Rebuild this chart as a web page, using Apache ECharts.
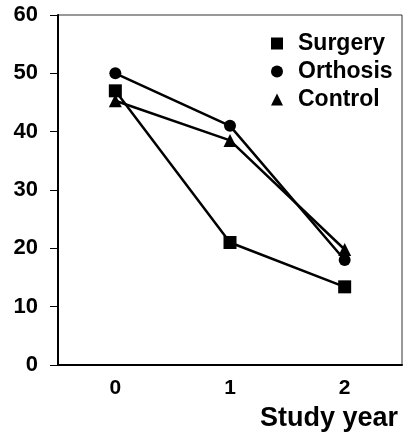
<!DOCTYPE html>
<html>
<head>
<meta charset="utf-8">
<script src="https://cdn.jsdelivr.net/npm/echarts@6/dist/echarts.min.js"></script>
<style>
html,body{margin:0;padding:0;background:#fff;}
#chart{width:409px;height:435px;}
</style>
</head>
<body>
<div id="chart"></div>
<script>
const categories = ['0', '1', '2'];
const surgery = [47, 21, 13.4];
const orthosis = [50, 41, 18];
const control = [45.3, 38.5, 19.8];
const yTicks = [0, 10, 20, 30, 40, 50, 60];
const seriesNames = ['Surgery', 'Orthosis', 'Control'];
const xAxisTitle = 'Study year';

const chart = echarts.init(document.getElementById('chart'), null, {renderer: 'canvas'});
const font = '"Liberation Sans", Arial, sans-serif';
function mk(name, data, symbol, size) {
  return {
    name: name, type: 'line', data: data,
    symbol: symbol, symbolSize: size,
    itemStyle: {color: '#000'},
    lineStyle: {color: '#000', width: 2.5},
    z: 3
  };
}
chart.setOption({
  animation: false,
  backgroundColor: '#fff',
  grid: {left: 58, right: 7, top: 15, bottom: 70, show: true, borderColor: '#333', borderWidth: 1},
  xAxis: {
    type: 'category', data: categories, boundaryGap: true,
    axisLine: {show: true, lineStyle: {color: '#000', width: 2}},
    axisTick: {show: false},
    axisLabel: {color: '#000', fontFamily: font, fontWeight: 'bold', fontSize: 21, margin: 13},
    splitLine: {show: false}
  },
  yAxis: {
    type: 'value', min: 0, max: 60, interval: 10,
    axisLine: {show: true, lineStyle: {color: '#000', width: 2}},
    axisTick: {show: true, length: 8, lineStyle: {color: '#000', width: 1}},
    axisLabel: {color: '#000', fontFamily: font, fontWeight: 'bold', fontSize: 22, margin: 20,
      formatter: function (v) { return yTicks.indexOf(v) >= 0 ? String(v) : ''; }},
    splitLine: {show: false}
  },
  legend: {
    orient: 'vertical', left: 266, top: 27,
    itemWidth: 12, itemHeight: 12, itemGap: 5,
    textStyle: {color: '#000', fontFamily: font, fontWeight: 'bold', fontSize: 23, lineHeight: 23, padding: [0, 0, 0, 10]},
    data: [
      {name: seriesNames[0], icon: 'rect'},
      {name: seriesNames[1], icon: 'circle'},
      {name: seriesNames[2], icon: 'triangle'}
    ]
  },
  graphic: [{
    type: 'text', right: 11, top: 405,
    style: {text: xAxisTitle, fill: '#000', font: 'bold 27px "Liberation Sans", Arial, sans-serif'}
  }],
  series: [
    mk(seriesNames[0], surgery, 'rect', 13),
    mk(seriesNames[1], orthosis, 'circle', 12),
    mk(seriesNames[2], control, 'triangle', 13)
  ]
});
</script>
</body>
</html>
